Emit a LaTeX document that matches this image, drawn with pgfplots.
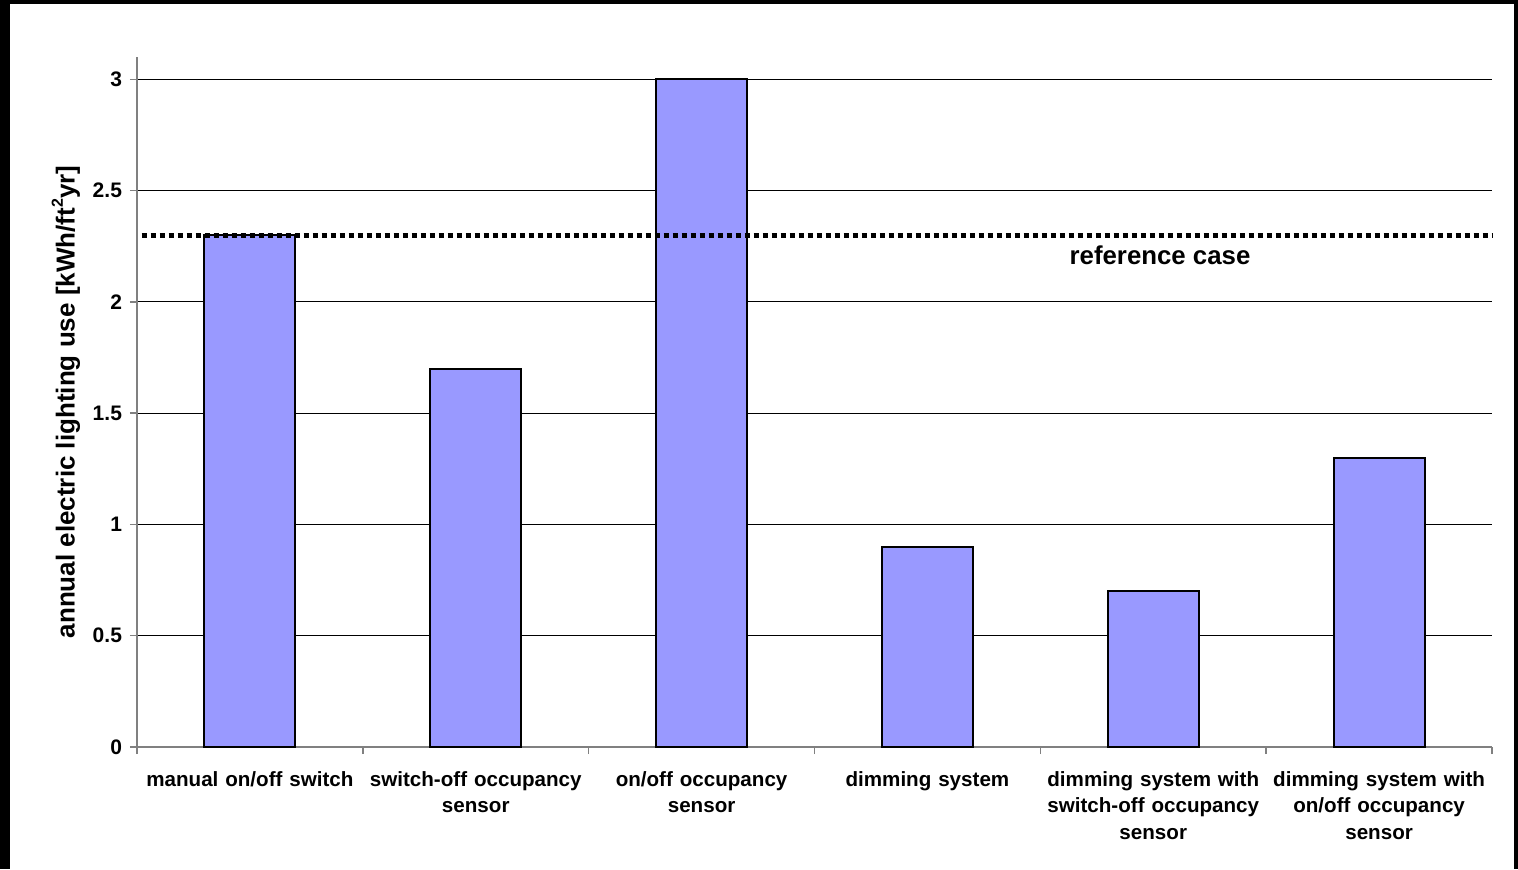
\documentclass[border=0pt]{standalone}
\usepackage{fontspec}
\setmainfont{Liberation Sans}
\usepackage{pgfplots}
\pgfplotsset{compat=1.18}
\definecolor{barblue}{HTML}{9999FF}
\definecolor{axgray}{HTML}{808080}
\begin{document}
\begin{tikzpicture}[x=1pt,y=1pt]
\path[use as bounding box] (0,0) rectangle (759,434.5);
\fill[black] (0,0) rectangle (759,434.5);
\fill[white] (5,0) rectangle (757,432.5);
\begin{axis}[
  at={(68.5pt,61pt)}, anchor=south west,
  scale only axis, width=677.5pt, height=345pt,
  xmin=0, xmax=6, ymin=0, ymax=3.1,
  axis lines=left,
  axis line style={axgray, line width=0.75pt, -},
  ytick={0,0.5,1,1.5,2,2.5,3},
  yticklabels={0,0.5,1,1.5,2,2.5,3},
  ymajorgrids,
  major grid style={black, line width=0.5pt},
  xtick={0,1,2,3,4,5,6},
  xticklabels={},
  extra x ticks={0.5,1.5,2.5,3.5,4.5,5.5},
  extra x tick labels={manual on/off switch,switch-off occupancy\\sensor,on/off occupancy\\sensor,dimming system,dimming system with\\switch-off occupancy\\sensor,dimming system with\\on/off occupancy\\sensor},
  extra x tick style={major tick length=0pt, grid=none},
  tick align=outside,
  major tick length=3.5pt,
  tick style={axgray, line width=0.75pt},
  /pgf/number format/assume math mode=true,
  yticklabel style={font=\bfseries\fontsize{10.5}{12}\selectfont, xshift=-0.5pt},
  xticklabel style={font=\bfseries\fontsize{10.3}{13.25}\selectfont, align=center, text width=112pt, yshift=-8.5pt},
  ylabel={annual electric lighting use [kWh/ft\raisebox{0.45em}{\fontsize{8}{8}\selectfont 2}yr]},
  ylabel style={at={(axis description cs:-0.0524,0.5)}, anchor=center, font=\bfseries\fontsize{13}{15}\selectfont},
  clip=false,
]
\addplot[ybar, bar width=45.5pt, fill=barblue, draw=black, line width=1pt] coordinates {
  (0.5,2.3) (1.5,1.7) (2.5,3.0) (3.5,0.9) (4.5,0.7) (5.5,1.3)
};
\addplot[black, line width=2.5pt, dash pattern=on 2.6pt off 1.9pt] coordinates {(0.02,2.3) (6,2.3)};
\node[font=\bfseries\fontsize{12.9}{15}\selectfont] at (axis cs:4.53,2.21) {reference case};
\end{axis}
\end{tikzpicture}
\end{document}
